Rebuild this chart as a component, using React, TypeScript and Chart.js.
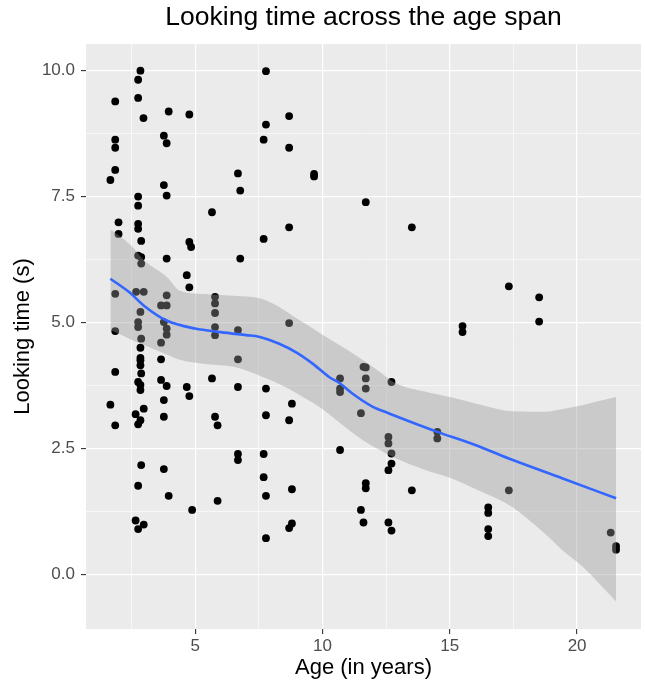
import React, { useEffect, useRef } from 'react';
import { Chart, registerables } from 'chart.js';

Chart.register(...registerables);

// Observed data: age (years) and looking time (s)
const ages = [
  2.85, 2.76, 1.86, 2.76, 3.96, 4.77, 2.97, 1.86, 1.86, 3.77, 3.88, 1.86, 1.67, 3.77, 3.88, 2.76, 2.76, 1.99, 1.99, 2.76, 2.76, 2.88, 4.77, 4.84,
  2.76, 2.88, 2.88, 3.88, 4.67, 4.77, 1.86, 2.68, 2.98, 3.88, 3.66, 3.88, 2.85, 2.76, 2.76, 3.77, 3.88, 3.88, 1.86, 2.88, 3.66, 2.85, 2.85, 2.85, 3.66, 2.85, 1.86, 2.88, 2.76, 2.85, 2.85, 3.66, 3.88, 4.67, 4.77, 3.77, 1.67, 2.98, 2.66, 3.77, 2.85, 2.76, 1.86,
  2.88, 3.77, 2.76, 3.96, 4.88, 2.66, 2.98, 2.76,
  7.78, 8.69, 7.78, 7.69, 8.69, 6.68, 6.77, 9.67, 9.67, 5.66, 8.69, 7.69, 6.77, 5.78, 5.78, 5.78, 5.78, 5.78, 6.68, 8.69,
  6.68, 5.66, 6.68, 7.78, 8.80, 5.78, 5.88, 7.78, 8.69, 6.68, 6.68, 7.69, 7.69, 8.80, 7.78, 5.88, 8.80, 8.69, 7.78, 10.69,
  11.70, 13.51, 17.32, 18.51, 18.51, 15.50, 15.50, 11.61, 11.70, 11.70, 11.70, 10.69, 10.69, 10.69, 12.71, 11.51, 12.59, 12.59, 12.71, 12.71, 12.59, 14.51, 14.51,
  11.70, 11.70, 13.51, 17.32, 11.51, 11.61, 12.59, 12.71, 16.51, 16.51, 16.51, 16.51, 21.32, 21.53, 21.53,
];
const looks = [
  10.0, 9.82, 9.39, 9.46, 9.19, 9.13, 9.06, 8.63, 8.47, 8.71, 8.56, 8.03, 7.83, 7.73, 7.52, 7.50, 7.32, 6.99, 6.76, 6.96, 6.86, 6.62, 6.60, 6.50,
  6.33, 6.30, 6.17, 6.27, 5.94, 5.70, 5.57, 5.61, 5.61, 5.54, 5.34, 5.34, 5.21, 5.01, 4.91, 5.01, 4.88, 4.76, 4.83, 4.68, 4.60, 4.50, 4.30, 4.25, 4.27, 4.15, 4.02, 3.99, 3.82, 3.76, 3.66, 3.86, 3.74, 3.72, 3.54, 3.46, 3.37, 3.29, 3.18, 3.13, 3.06, 2.98, 2.96,
  2.17, 2.09, 1.76, 1.56, 1.28, 1.07, 0.99, 0.90,
  9.99, 9.10, 8.93, 8.63, 8.47, 7.96, 7.62, 7.95, 7.90, 7.19, 6.89, 6.66, 6.27, 5.51, 5.38, 5.19, 4.91, 4.75, 4.85, 4.99,
  4.27, 3.89, 3.72, 3.69, 3.39, 3.13, 2.96, 3.16, 3.06, 2.39, 2.27, 2.39, 1.93, 1.69, 1.56, 1.46, 1.01, 0.92, 0.72, 2.47,
  7.39, 6.89, 5.72, 5.50, 5.02, 4.93, 4.81, 4.12, 4.11, 3.89, 3.69, 3.89, 3.69, 3.62, 3.82, 3.20, 2.73, 2.60, 2.40, 2.20, 2.07, 2.83, 2.70,
  1.81, 1.71, 1.67, 1.67, 1.28, 1.03, 1.03, 0.87, 1.33, 1.22, 0.90, 0.76, 0.83, 0.56, 0.49,
];

// Loess fit
const smoothAges = [1.67, 2.44, 3.0, 3.88, 5.0, 6.0, 7.0, 7.5, 8.3, 9.0, 9.6, 10.26, 10.69, 11.2, 11.96, 12.59, 13.5, 14.51, 16.0, 17.32, 19.41, 21.53];
const smoothFit = [5.87, 5.59, 5.33, 5.04, 4.88, 4.81, 4.75, 4.72, 4.58, 4.40, 4.19, 3.92, 3.79, 3.58, 3.33, 3.20, 3.02, 2.83, 2.57, 2.30, 1.91, 1.51];

// Confidence band
const bandAges = [1.67, 2.5, 3.0, 3.9, 4.4, 5.5, 6.5, 7.6, 8.3, 9.0, 10.0, 11.0, 11.6, 12.25, 12.9, 14.0, 15.0, 16.2, 17.45, 18.75, 19.4, 20.2, 21.53];
const bandUpper = [6.85, 6.52, 6.23, 5.90, 5.63, 5.56, 5.53, 5.47, 5.31, 5.08, 4.76, 4.45, 4.25, 4.02, 3.79, 3.63, 3.52, 3.37, 3.24, 3.23, 3.28, 3.36, 3.52];
const bandLower = [4.85, 4.66, 4.55, 4.36, 4.26, 4.17, 4.12, 3.93, 3.78, 3.59, 3.28, 2.88, 2.66, 2.47, 2.30, 2.08, 1.92, 1.65, 1.34, 0.80, 0.49, 0.16, -0.54];

const xMajorTicks = [5, 10, 15, 20];
const xMinorTicks = [2.5, 7.5, 12.5, 17.5];
const yMajorTicks = [0, 2.5, 5, 7.5, 10];
const yMinorTicks = [1.25, 3.75, 6.25, 8.75];

const FONT = "'Liberation Sans', Arial, Helvetica, sans-serif";

const isMajor = (v: number, majors: number[]) => majors.some((m) => Math.abs(m - v) < 1e-9);

export default function App() {
  const ref = useRef<HTMLCanvasElement>(null);

  useEffect(() => {
    document.body.style.margin = '0';
    const panelBg = {
      id: 'panelBg',
      beforeDraw(chart: any) {
        const { ctx, chartArea: a } = chart;
        ctx.save();
        ctx.fillStyle = '#EBEBEB';
        ctx.fillRect(a.left, a.top, a.right - a.left, a.bottom - a.top);
        ctx.restore();
      },
    };

    const chart = new Chart(ref.current as HTMLCanvasElement, {
      type: 'scatter',
      data: {
        datasets: [
          {
            type: 'line',
            label: 'fit',
            data: smoothAges.map((x, i) => ({ x, y: smoothFit[i] })),
            borderColor: '#3366FF',
            borderWidth: 2.6,
            pointRadius: 0,
            showLine: true,
            fill: false,
            cubicInterpolationMode: 'monotone',
            order: 1,
          } as any,
          {
            type: 'line',
            label: 'upper',
            data: bandAges.map((x, i) => ({ x, y: bandUpper[i] })),
            borderColor: 'rgba(0,0,0,0)',
            borderWidth: 0,
            pointRadius: 0,
            showLine: true,
            fill: '+1',
            backgroundColor: 'rgba(153,153,153,0.4)',
            cubicInterpolationMode: 'monotone',
            order: 2,
          } as any,
          {
            type: 'line',
            label: 'lower',
            data: bandAges.map((x, i) => ({ x, y: bandLower[i] })),
            borderColor: 'rgba(0,0,0,0)',
            borderWidth: 0,
            pointRadius: 0,
            showLine: true,
            fill: false,
            cubicInterpolationMode: 'monotone',
            order: 2,
          } as any,
          {
            type: 'scatter',
            label: 'points',
            data: ages.map((x, i) => ({ x, y: looks[i] })),
            pointRadius: 3.9,
            pointBackgroundColor: '#000000',
            backgroundColor: '#000000',
            pointBorderWidth: 0,
            borderWidth: 0,
            order: 3,
          } as any,
        ],
      },
      options: {
        animation: false,
        responsive: false,
        maintainAspectRatio: false,
        layout: { padding: { left: 0, right: 2, top: 0, bottom: 0 } },
        plugins: {
          legend: { display: false },
          tooltip: { enabled: false },
          title: {
            display: true,
            fullSize: false,
            text: 'Looking time across the age span',
            color: '#000000',
            font: { family: FONT, size: 26.5, weight: 'normal' },
            padding: { top: 2, bottom: 10.2 },
          },
        },
        scales: {
          x: {
            type: 'linear',
            min: 0.712,
            max: 22.51,
            afterBuildTicks: (s: any) => {
              s.ticks = [...xMinorTicks, ...xMajorTicks].sort((a, b) => a - b).map((v) => ({ value: v }));
            },
            afterFit: (s: any) => {
              s.height = 56;
            },
            border: { display: false },
            grid: {
              color: '#FFFFFF',
              lineWidth: (c: any) => (isMajor(c.tick.value, xMajorTicks) ? 1.2 : 0.6),
              drawTicks: true,
              tickLength: 5,
              tickWidth: 1.1,
              tickColor: (c: any) => (isMajor(c.tick.value, xMajorTicks) ? '#333333' : 'rgba(0,0,0,0)'),
            },
            ticks: {
              autoSkip: false,
              maxRotation: 0,
              color: '#4D4D4D',
              font: { family: FONT, size: 17 },
              padding: 1.8,
              callback: (v: any) => (isMajor(Number(v), xMajorTicks) ? String(v) : ''),
            },
            title: {
              display: true,
              text: 'Age (in years)',
              color: '#000000',
              font: { family: FONT, size: 22 },
              padding: { top: 0, bottom: 3.8 },
            },
          },
          y: {
            type: 'linear',
            min: -1.084,
            max: 10.53,
            afterBuildTicks: (s: any) => {
              s.ticks = [...yMinorTicks, ...yMajorTicks].sort((a, b) => a - b).map((v) => ({ value: v }));
            },
            afterFit: (s: any) => {
              s.width = 86;
            },
            border: { display: false },
            grid: {
              color: '#FFFFFF',
              lineWidth: (c: any) => (isMajor(c.tick.value, yMajorTicks) ? 1.2 : 0.6),
              drawTicks: true,
              tickLength: 5,
              tickWidth: 1.1,
              tickColor: (c: any) => (isMajor(c.tick.value, yMajorTicks) ? '#333333' : 'rgba(0,0,0,0)'),
            },
            ticks: {
              autoSkip: false,
              color: '#4D4D4D',
              font: { family: FONT, size: 17 },
              padding: 6,
              callback: (v: any) => (isMajor(Number(v), yMajorTicks) ? Number(v).toFixed(1) : ''),
            },
            title: {
              display: true,
              text: 'Looking time (s)',
              color: '#000000',
              font: { family: FONT, size: 22 },
              padding: { top: 9.5, bottom: 0 },
            },
          },
        },
      },
      plugins: [panelBg],
    } as any);

    return () => chart.destroy();
  }, []);

  return (
    <div style={{ width: 645, height: 685, background: '#FFFFFF' }}>
      <canvas ref={ref} width={645} height={685} style={{ display: 'block', width: 645, height: 685 }} />
    </div>
  );
}
